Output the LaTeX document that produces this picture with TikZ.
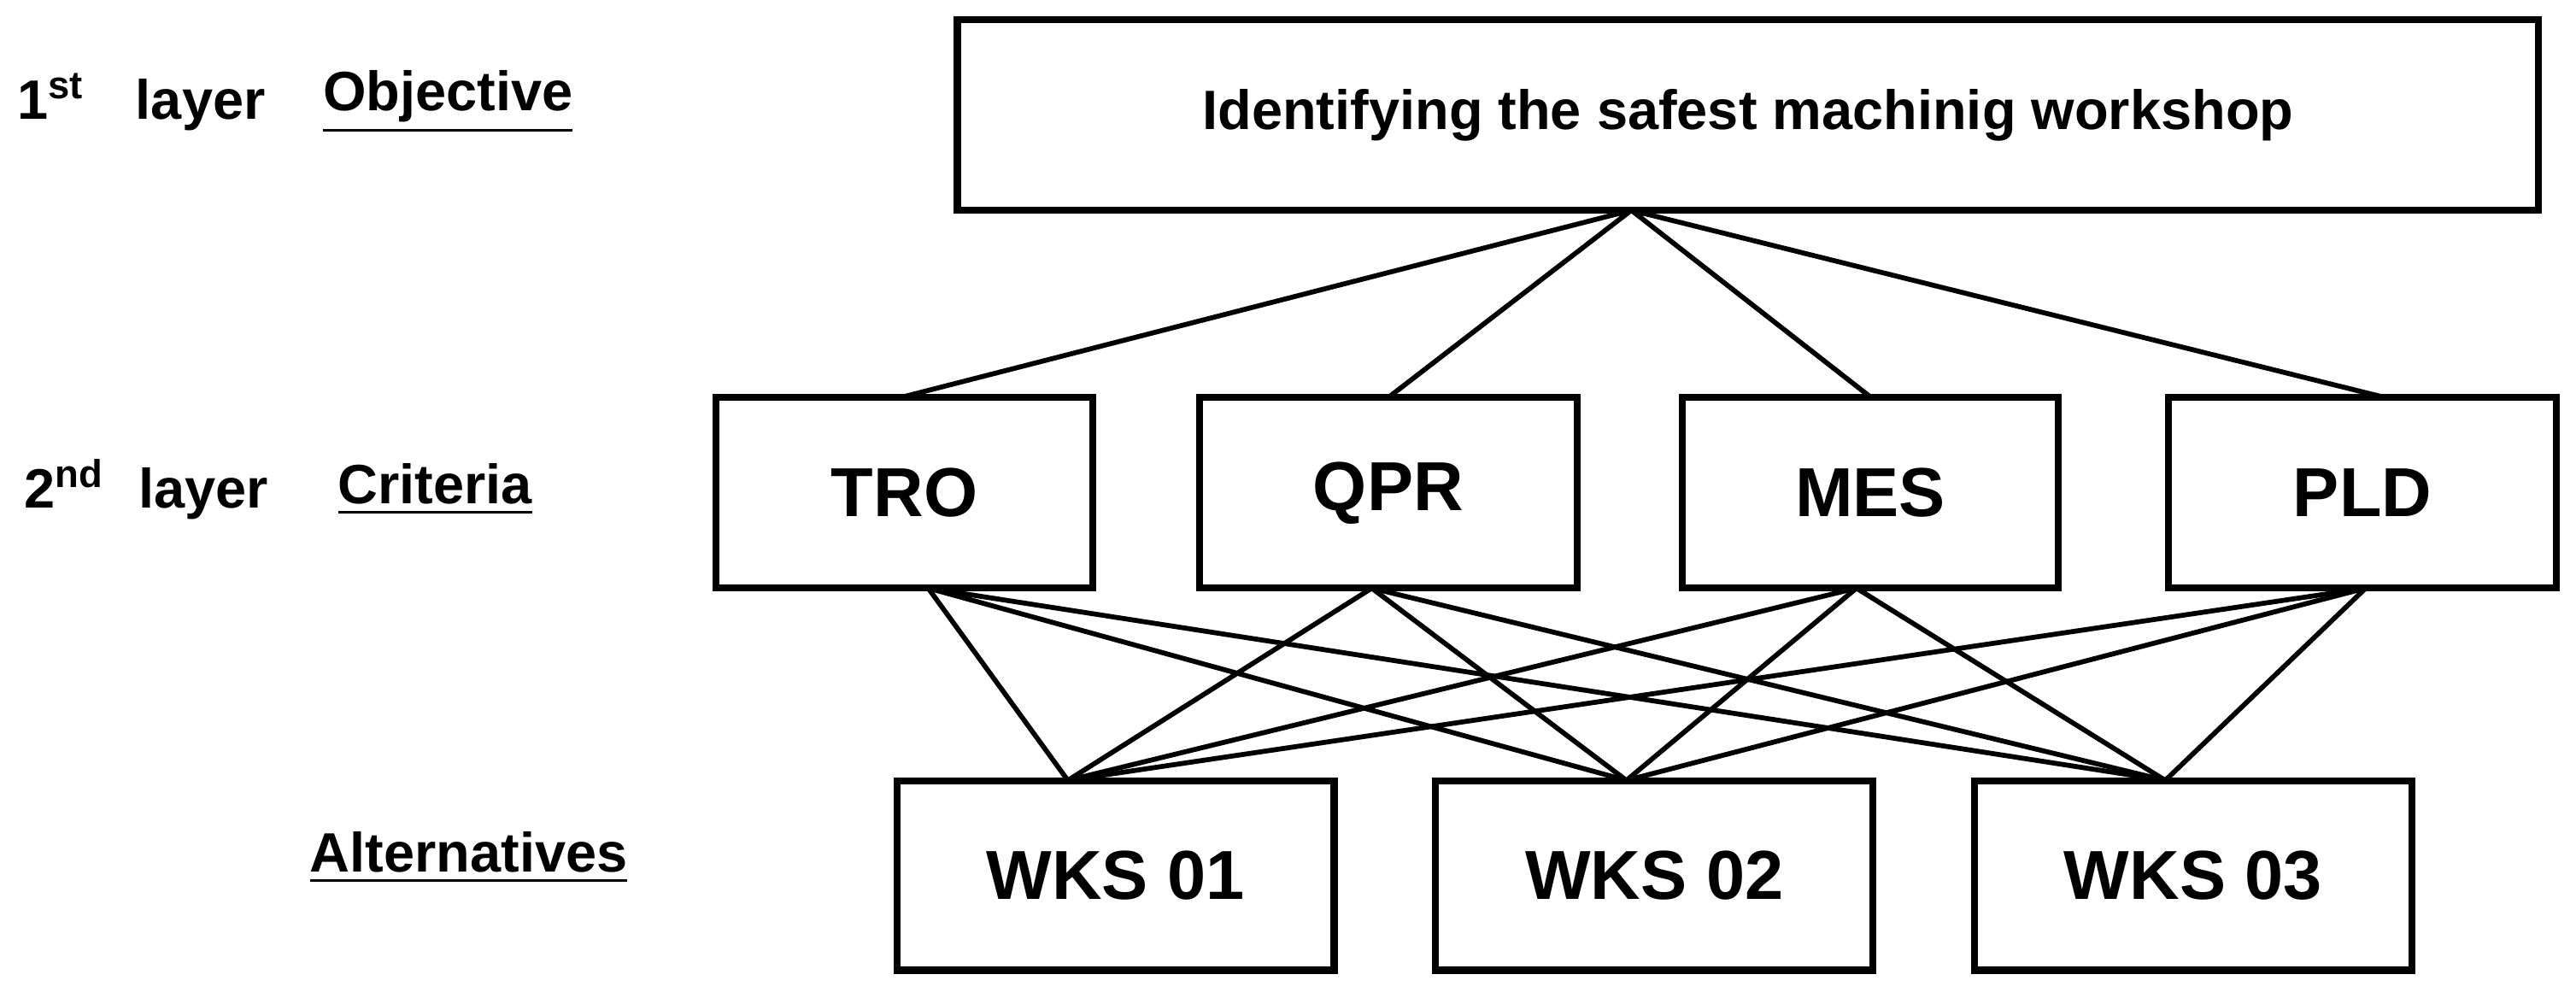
\documentclass[tikz,border=0pt]{standalone}
\usepackage{fontspec}
\setmainfont{Liberation Sans}
\begin{document}
\begin{tikzpicture}[x=0.01cm,y=-0.01cm,
  box/.style={draw,line width=1.2pt,inner sep=0pt,font=\bfseries},
  lk/.style={line width=0.85pt},
  lab/.style={anchor=west,font=\fontsize{9.6pt}{11pt}\selectfont\bfseries,inner sep=0pt}]
\useasboundingbox (0,0) rectangle (1568,607);
\node[box,minimum width=9.62cm,minimum height=1.16cm,font=\fontsize{9.6pt}{11pt}\selectfont\bfseries] (obj) at (1064,70) {Identifying the safest machinig workshop};
\foreach \n/\t/\a/\b in {tro/TRO/436/665,qpr/QPR/730/960,mes/MES/1024/1253,pld/PLD/1320/1556}
  \node[box,minimum width={(\b-\a)*0.01cm},minimum height=1.16cm,font=\fontsize{12pt}{14pt}\selectfont\bfseries] (\n) at ({(\a+\b)/2},300) {\t};
\foreach \n/\t/\a in {w1/WKS 01/546,w2/WKS 02/874,w3/WKS 03/1202}
  \node[box,minimum width=2.66cm,minimum height=1.15cm,font=\fontsize{12pt}{14pt}\selectfont\bfseries] (\n) at (\a+133,533) {\t};
\coordinate (ob) at (993,128);
\draw[lk] (ob) -- (548,242) (ob) -- (845,242) (ob) -- (1139,242) (ob) -- (1452,242);
\coordinate (c1) at (565,358); \coordinate (c2) at (835,358);
\coordinate (c3) at (1130,358); \coordinate (c4) at (1440,358);
\coordinate (a1) at (650,475); \coordinate (a2) at (990,475); \coordinate (a3) at (1318,475);
\foreach \c in {c1,c2,c3,c4} \foreach \a in {a1,a2,a3} \draw[lk] (\c) -- (\a);
\node[lab] (l1) at (10,62) {1\textsuperscript{st}\hspace{0.9em}layer};
\node[lab] (o1) at (196,62) {\underline{Objective}};
\node[lab] (l2) at (14,298) {2\textsuperscript{nd}\hspace{0.6em}layer};
\node[lab] (o2) at (205,298) {\underline{Criteria}};
\node[lab] (o3) at (188,522) {\underline{Alternatives}};
\end{tikzpicture}
\end{document}
